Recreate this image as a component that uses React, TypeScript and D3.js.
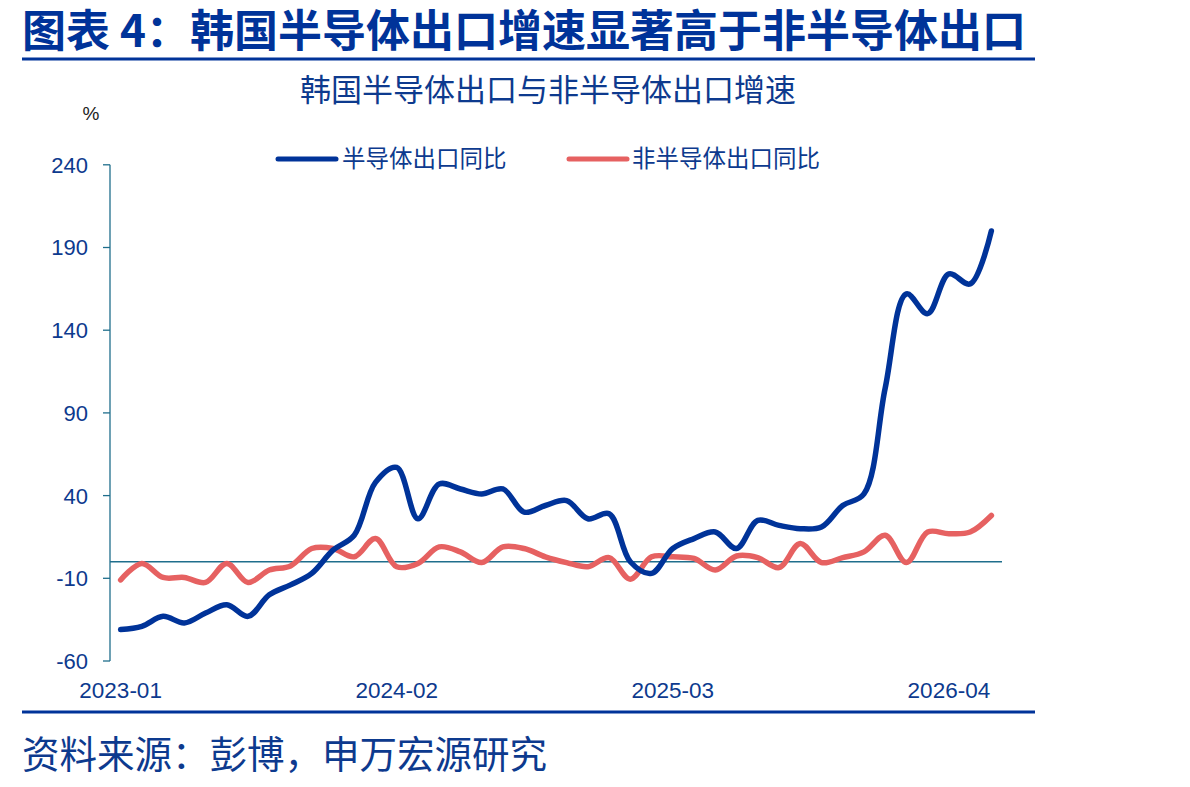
import { scaleLinear, scalePoint, line as d3_line, curveCatmullRom, timeMonths, timeFormat } from "d3"

// 月份：2023-01 ~ 2026-06
const months = timeMonths(new Date(2023, 0, 1), new Date(2026, 6, 1)).map(timeFormat("%Y-%m"))

// 半导体出口同比 (%)
const semiYoY = [
  -41, -39, -33, -37, -31, -26, -33, -20, -14, -7, 7, 16, 48, 57, 26, 47, 44, 41, 44, 30, 34,
  37, 26, 29, 0, -7, 8, 14, 18, 8, 25, 22, 20, 21, 34, 41, 105, 162, 150, 174, 168, 200,
]

// 非半导体出口同比 (%)
const nonSemiYoY = [
  -11, -1, -9.5, -9.5, -12.5, -1, -12.5, -5, -2.5, 8, 8, 3, 14, -3, -1, 9, 6, -0.5, 9, 8, 3,
  -0.5, -3, 2.5, -10.5, 3, 3, 2, -5, 3.5, 2.5, -3.5, 11, -0.5, 2.5, 6, 16, -0.5, 18, 17, 18, 28,
]

const xTickLabels = ["2023-01", "2024-02", "2025-03", "2026-04"]
const yTicks = [-60, -10, 40, 90, 140, 190, 240]

const BLUE = "#003399"
const RED = "#E66161"
const TEXT = "#0D3A8E"
const AXIS = "#1F6E8C"
const FONT = "'Liberation Sans', 'Noto Sans CJK SC', sans-serif"
const CJK = "'Noto Sans CJK SC', 'Liberation Sans', sans-serif"

export default function App() {
  const width = 1190
  const height = 787
  const plot = { left: 110, right: 1002, top: 164.8, bottom: 661 }

  const x = scalePoint<string>().domain(months).range([plot.left, plot.right]).padding(0.5)
  const y = scaleLinear().domain([-60, 240]).range([plot.bottom, plot.top])

  const line = d3_line<number>()
    .x((_, i) => x(months[i]) ?? 0)
    .y((d) => y(d))
    .curve(curveCatmullRom)

  return (
    <svg
      width={width}
      height={height}
      style={{ position: "absolute", left: 0, top: 0, background: "#fff" }}
    >
      {/* 标题 */}
      <text x={22} y={47} fontFamily={CJK} fontWeight={700} fontSize={44} fill={BLUE}>
        图表 4：韩国半导体出口增速显著高于非半导体出口
      </text>
      <line x1={22} x2={1035} y1={59} y2={59} stroke={BLUE} strokeWidth={3} />

      {/* 副标题 */}
      <text x={548} y={101} textAnchor="middle" fontFamily={CJK} fontSize={31} fill={TEXT}>
        韩国半导体出口与非半导体出口增速
      </text>
      <text x={91} y={120} textAnchor="middle" fontFamily={FONT} fontSize={19} fill="#222">
        %
      </text>

      {/* 图例 */}
      <line x1={278} x2={336} y1={159} y2={159} stroke={BLUE} strokeWidth={5} strokeLinecap="round" />
      <text x={342} y={167} fontFamily={CJK} fontSize={23.5} fill={TEXT}>
        半导体出口同比
      </text>
      <line x1={569} x2={627} y1={159} y2={159} stroke={RED} strokeWidth={5} strokeLinecap="round" />
      <text x={632} y={167} fontFamily={CJK} fontSize={23.5} fill={TEXT}>
        非半导体出口同比
      </text>

      {/* Y 轴 */}
      <line x1={plot.left} x2={plot.left} y1={y(240)} y2={y(-60)} stroke={AXIS} strokeWidth={1.3} />
      {yTicks.map((t) => (
        <g key={t}>
          <line x1={plot.left - 7} x2={plot.left} y1={y(t)} y2={y(t)} stroke={AXIS} strokeWidth={1.3} />
          <text
            x={88}
            y={y(t)}
            dy="0.36em"
            textAnchor="end"
            fontFamily={FONT}
            fontSize={22}
            fill={TEXT}
          >
            {t}
          </text>
        </g>
      ))}

      {/* 零线 */}
      <line x1={plot.left} x2={plot.right} y1={y(0)} y2={y(0)} stroke={AXIS} strokeWidth={1.3} />

      {/* X 轴标签 */}
      {xTickLabels.map((m) => (
        <text
          key={m}
          x={x(m)}
          y={698}
          textAnchor="middle"
          fontFamily={FONT}
          fontSize={22.5}
          fill={TEXT}
        >
          {m}
        </text>
      ))}

      {/* 折线 */}
      <path d={line(nonSemiYoY) ?? ""} fill="none" stroke={RED} strokeWidth={5.5} strokeLinecap="round" strokeLinejoin="round" />
      <path d={line(semiYoY) ?? ""} fill="none" stroke={BLUE} strokeWidth={5.5} strokeLinecap="round" strokeLinejoin="round" />

      {/* 底部 */}
      <line x1={22} x2={1035} y1={712} y2={712} stroke={BLUE} strokeWidth={3} />
      <text x={22} y={768} fontFamily={CJK} fontSize={37.5} fill={TEXT}>
        资料来源：彭博，申万宏源研究
      </text>
    </svg>
  )
}
